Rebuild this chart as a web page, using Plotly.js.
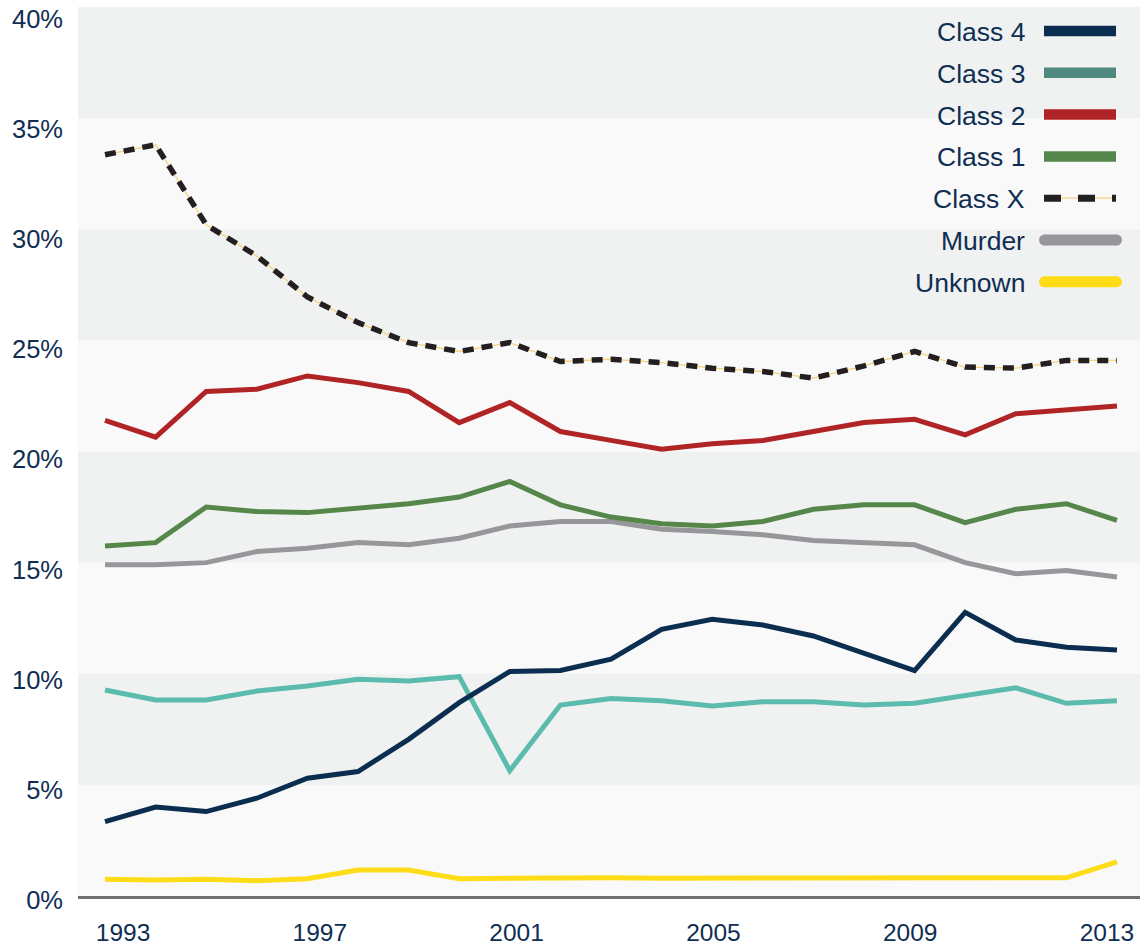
<!DOCTYPE html>
<html>
<head>
<meta charset="utf-8">
<script src="https://cdn.plot.ly/plotly-3.0.1.min.js"></script>
<style>
  html, body { margin: 0; padding: 0; background: #ffffff; }
  #chart { width: 1140px; height: 947px; }
</style>
</head>
<body>
<div id="chart"></div>
<script>
// ---- data ----
const years = [1993, 1994, 1995, 1996, 1997, 1998, 1999, 2000, 2001, 2002, 2003,
               2004, 2005, 2006, 2007, 2008, 2009, 2010, 2011, 2012, 2013];
const tickYears = [1993, 1997, 2001, 2005, 2009, 2013];
const yTicks = [0, 5, 10, 15, 20, 25, 30, 35, 40];

const class4  = [3.35, 4.0, 3.8, 4.4, 5.3, 5.6, 7.05, 8.7, 10.1, 10.15, 10.66,
                 12.0, 12.45, 12.19, 11.7, 10.92, 10.14, 12.76, 11.52, 11.19, 11.07];
const class3  = [9.27, 8.82, 8.82, 9.22, 9.45, 9.75, 9.67, 9.87, 5.64, 8.59, 8.89,
                 8.79, 8.55, 8.74, 8.74, 8.59, 8.67, 9.04, 9.37, 8.67, 8.79];
const class2  = [21.4, 20.65, 22.7, 22.8, 23.4, 23.1, 22.7, 21.3, 22.2, 20.9, 20.5,
                 20.1, 20.35, 20.5, 20.9, 21.3, 21.45, 20.75, 21.7, 21.9, 22.05];
const class1  = [15.75, 15.9, 17.5, 17.3, 17.25, 17.45, 17.65, 17.95, 18.65, 17.6, 17.05,
                 16.75, 16.65, 16.85, 17.4, 17.6, 17.6, 16.8, 17.4, 17.65, 16.9];
const classX  = [33.35, 33.8, 30.2, 28.8, 26.95, 25.8, 24.9, 24.5, 24.9, 24.05, 24.15,
                 24.0, 23.75, 23.6, 23.3, 23.85, 24.5, 23.8, 23.75, 24.1, 24.1];
const murder  = [14.9, 14.9, 15.0, 15.5, 15.65, 15.9, 15.8, 16.1, 16.65, 16.85, 16.85,
                 16.5, 16.4, 16.25, 16.0, 15.9, 15.8, 15.0, 14.5, 14.65, 14.35];
const unknown = [0.75, 0.72, 0.75, 0.69, 0.78, 1.17, 1.17, 0.78, 0.8, 0.82, 0.82,
                 0.8, 0.8, 0.82, 0.82, 0.82, 0.82, 0.82, 0.82, 0.82, 1.54];

const seriesNames = ['Class 4', 'Class 3', 'Class 2', 'Class 1', 'Class X', 'Murder', 'Unknown'];

// ---- styles ----
const NAVY = '#0f2e52';
const FONT = 'Liberation Sans, Arial, Helvetica, sans-serif';
const colors = {
  'Class 4': '#0b2d4f',
  'Class 3': '#5bbcad',
  'Class 2': '#b02426',
  'Class 1': '#55864a',
  'Class X': '#231f20',
  'Murder':  '#97979b',
  'Unknown': '#ffdc18'
};
const legendColors = Object.assign({}, colors, { 'Class 3': '#4e8a80' });
const classXUnder = '#f6d27e';
const LW = 5;

const traces = [
  { x: years, y: unknown, name: 'Unknown', mode: 'lines', line: { color: colors['Unknown'], width: LW }, showlegend: false, hoverinfo: 'skip' },
  { x: years, y: murder,  name: 'Murder',  mode: 'lines', line: { color: colors['Murder'], width: LW }, showlegend: false, hoverinfo: 'skip' },
  { x: years, y: classX,  name: 'Class X base', mode: 'lines', line: { color: classXUnder, width: 1.3 }, showlegend: false, hoverinfo: 'skip' },
  { x: years, y: classX,  name: 'Class X', mode: 'lines', line: { color: colors['Class X'], width: 5.5, dash: '11px,8px' }, showlegend: false, hoverinfo: 'skip' },
  { x: years, y: class1,  name: 'Class 1', mode: 'lines', line: { color: colors['Class 1'], width: LW }, showlegend: false, hoverinfo: 'skip' },
  { x: years, y: class2,  name: 'Class 2', mode: 'lines', line: { color: colors['Class 2'], width: LW }, showlegend: false, hoverinfo: 'skip' },
  { x: years, y: class3,  name: 'Class 3', mode: 'lines', line: { color: colors['Class 3'], width: LW }, showlegend: false, hoverinfo: 'skip' },
  { x: years, y: class4,  name: 'Class 4', mode: 'lines', line: { color: colors['Class 4'], width: LW }, showlegend: false, hoverinfo: 'skip' },
  // empty trace that only carries the label axes
  { x: tickYears, y: tickYears.map(() => null), xaxis: 'x2', yaxis: 'y2', mode: 'lines', showlegend: false, hoverinfo: 'skip' }
];

// ---- geometry helpers (pixel -> paper) ----
const L = 78, R = 1140, T = 7, B = 896;
const px = v => (v - L) / (R - L);
const py = v => (B - v) / (B - T);

// background bands
const shapes = [];
for (let k = 0; k < 8; k++) {
  const dark = (k % 2 === 1);
  shapes.push({
    type: 'rect', xref: 'paper', yref: 'y', x0: 0, x1: 1, y0: k * 5, y1: k * 5 + 5,
    fillcolor: dark ? '#f0f2f2' : '#f9f9f9', line: { width: 0 }, layer: 'below'
  });
}

// custom legend (text left, line right)
const annotations = [];
const rowY0 = 31, rowStep = 41.8;
seriesNames.forEach((nm, i) => {
  const yc = rowY0 + i * rowStep;
  annotations.push({
    xref: 'paper', yref: 'paper', x: px(1027), y: py(yc + 1), xanchor: 'right', yanchor: 'middle',
    text: nm, showarrow: false, font: { family: FONT, size: 26.5, color: NAVY }
  });
  const col = legendColors[nm];
  if (nm === 'Class X') {
    shapes.push({ type: 'line', xref: 'paper', yref: 'paper', x0: px(1044), x1: px(1116), y0: py(yc), y1: py(yc),
                  line: { color: classXUnder, width: 1.3 } });
    shapes.push({ type: 'line', xref: 'paper', yref: 'paper', x0: px(1044), x1: px(1116), y0: py(yc), y1: py(yc),
                  line: { color: col, width: 7, dash: '17px,17px' } });
  } else if (nm === 'Murder' || nm === 'Unknown') {
    shapes.push({ type: 'line', xref: 'paper', yref: 'paper', x0: px(1044.5), x1: px(1116.5), y0: py(yc), y1: py(yc),
                  line: { color: col, width: 11 } });
    [1044.5, 1116.5].forEach(cx => {
      shapes.push({ type: 'circle', xref: 'paper', yref: 'paper', x0: px(cx - 5.5), x1: px(cx + 5.5), y0: py(yc + 5.5), y1: py(yc - 5.5),
                    fillcolor: col, line: { width: 0 } });
    });
  } else {
    shapes.push({ type: 'line', xref: 'paper', yref: 'paper', x0: px(1044), x1: px(1116), y0: py(yc), y1: py(yc),
                  line: { color: col, width: 10.5 } });
  }
});

const layout = {
  width: 1140, height: 947,
  margin: { l: L, r: 0, t: T, b: 947 - B },
  paper_bgcolor: '#ffffff',
  plot_bgcolor: '#f9f9f9',
  showlegend: false,
  font: { family: FONT, color: NAVY },
  xaxis: {
    range: [1992.466, 2013.455], showticklabels: false, ticks: '', showgrid: false, zeroline: false,
    showline: true, linecolor: '#6f6f73', linewidth: 3, fixedrange: true
  },
  xaxis2: {
    overlaying: 'x', anchor: 'y', side: 'bottom',
    range: [1992.085, 2013.671], tickmode: 'array', tickvals: tickYears, ticktext: tickYears.map(String),
    showgrid: false, zeroline: false, showline: false, ticks: '',
    tickfont: { family: FONT, size: 24.5, color: NAVY }, ticklabelstandoff: 19, fixedrange: true
  },
  yaxis: {
    range: [0, 40], showticklabels: false, showgrid: false, zeroline: false, showline: false, ticks: '',
    fixedrange: true
  },
  yaxis2: {
    overlaying: 'y', anchor: 'x', side: 'left',
    range: [-0.363, 40], tickmode: 'array', tickvals: yTicks, ticktext: yTicks.map(v => v + '%'),
    showgrid: false, zeroline: false, showline: false, ticks: '',
    tickfont: { family: FONT, size: 25.5, color: NAVY }, ticklabelstandoff: 14, ticklabelshift: 12,
    fixedrange: true
  },
  shapes: shapes,
  annotations: annotations
};

Plotly.newPlot('chart', traces, layout, { displayModeBar: false, staticPlot: true });
</script>
</body>
</html>
